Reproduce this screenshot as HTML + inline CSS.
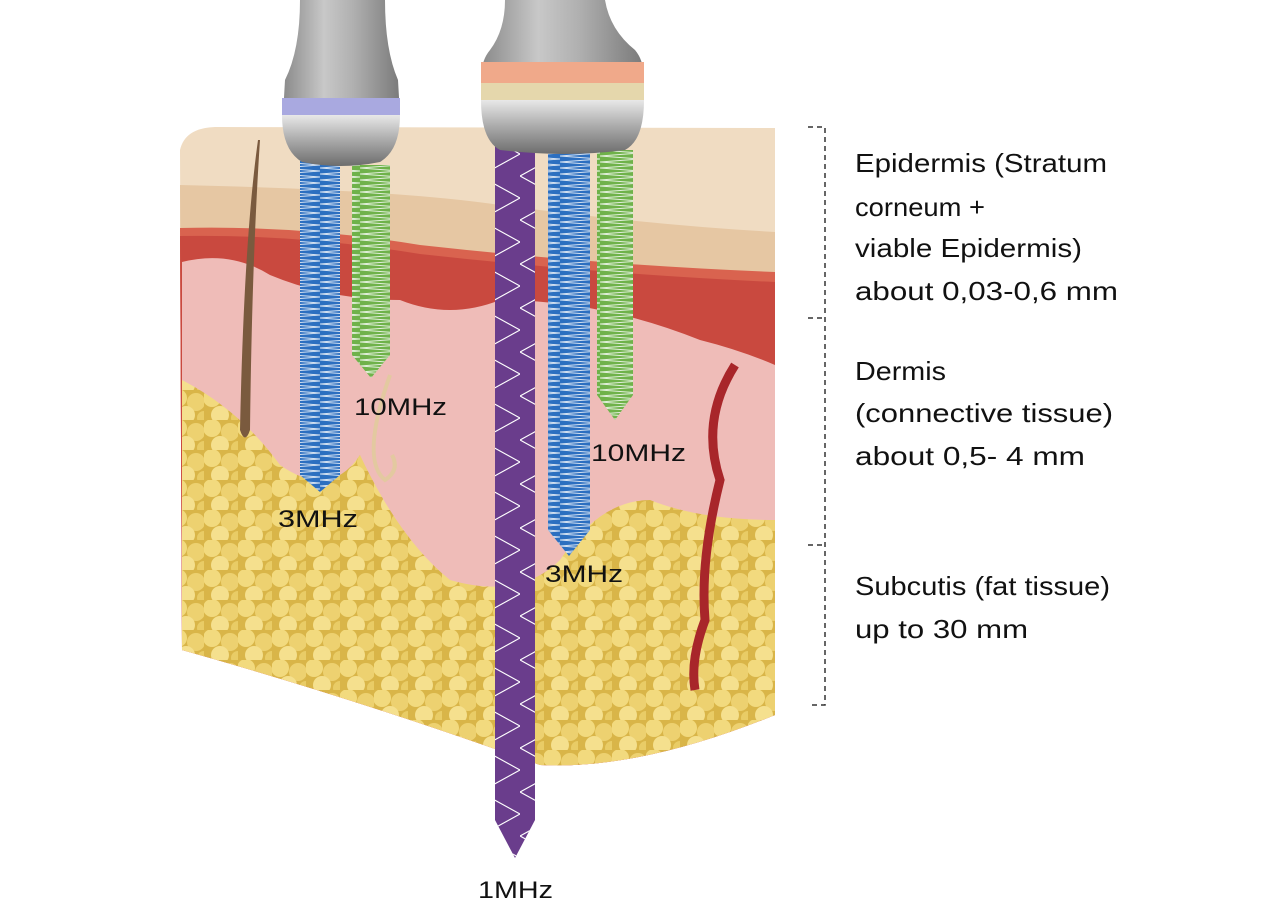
<!DOCTYPE html>
<html><head><meta charset="utf-8"><style>
html,body{margin:0;padding:0;background:#fff;}
svg{display:block;}
text{font-family:"Liberation Sans",sans-serif;fill:#111;}
</style></head><body>
<svg width="1271" height="914" viewBox="0 0 1271 914" xmlns="http://www.w3.org/2000/svg">
<defs>
<linearGradient id="metal" x1="0" x2="1" y1="0" y2="0">
<stop offset="0" stop-color="#8a8a8a"/><stop offset="0.35" stop-color="#c8c8c8"/><stop offset="0.6" stop-color="#b0b0b0"/><stop offset="1" stop-color="#7a7a7a"/></linearGradient>
<linearGradient id="head" x1="0" x2="0" y1="0" y2="1">
<stop offset="0" stop-color="#e8e8e8"/><stop offset="0.5" stop-color="#a9a9a9"/><stop offset="1" stop-color="#6d6d6d"/></linearGradient>
<linearGradient id="epi" x1="0" x2="0" y1="0" y2="1">
<stop offset="0" stop-color="#f0dcc2"/><stop offset="1" stop-color="#e2bf97"/></linearGradient>
<pattern id="zz" width="40" height="6" patternUnits="userSpaceOnUse">
<path d="M0 0 L40 3 L0 6" stroke="#fff" stroke-width="1" fill="none" opacity="0.8"/></pattern>
<pattern id="wave" width="40" height="44" patternUnits="userSpaceOnUse">
<path d="M0 0 L40 22 L0 44" stroke="#fff" stroke-width="1.2" fill="none"/></pattern>
<pattern id="fat" width="34" height="30" patternUnits="userSpaceOnUse">
<rect width="34" height="30" fill="#d9b548"/>
<circle cx="8" cy="8" r="9" fill="#f2da7e"/><circle cx="26" cy="12" r="9" fill="#edd170"/><circle cx="16" cy="25" r="9" fill="#f5e08e"/><circle cx="34" cy="28" r="7" fill="#e9cc66"/></pattern>
</defs>

<path d="M180 150 Q185 128 215 127 L775 128 L775 715 Q640 770 540 765 Q360 700 182 650 Z" fill="#f0dcc2"/>
<path d="M180 185 Q400 190 500 205 Q650 225 775 232 L775 715 Q640 770 540 765 Q360 700 182 650 Z" fill="#e6c7a3"/>
<path d="M180 228 Q300 225 420 245 Q600 265 775 272 L775 715 Q640 770 540 765 Q360 700 182 650 Z" fill="#d9634f"/>
<path d="M180 236 Q300 234 420 254 Q600 274 775 282 L775 715 Q640 770 540 765 Q360 700 182 650 Z" fill="#c9493f"/>
<path d="M182 262 Q230 250 270 275 Q330 300 400 300 Q450 320 500 300 Q600 300 700 340 Q740 350 775 365 L775 715 Q640 770 540 765 Q360 700 182 650 Z" fill="#efbcb8"/>
<path d="M182 380 Q240 410 280 465 Q330 500 360 455 Q400 540 450 580 Q520 600 560 560 Q600 500 650 500 Q700 520 775 520 L775 715 Q640 770 540 765 Q360 700 182 650 Z" fill="url(#fat)"/>
<path d="M258 140 Q244 240 240 430 Q245 445 250 430 Q252 260 260 140 Z" fill="#7a5a3e"/>
<path d="M390 375 Q360 460 385 480 Q400 470 392 455" stroke="#e3c9a0" stroke-width="4" fill="none"/>
<path d="M735 365 Q700 420 720 480 Q700 560 705 620 Q690 660 695 690" stroke="#a8262a" stroke-width="9" fill="none"/>

<path d="M495 140 L535 140 L535 820 L515 858 L495 820 Z" fill="#6a3d8c"/>
<path d="M495 140 L535 140 L535 820 L515 858 L495 820 Z" fill="url(#wave)"/>
<path d="M300 160 L340 160 L340 475 L320 492 L300 475 Z" fill="#2c6fc0"/>
<path d="M300 160 L340 160 L340 475 L320 492 L300 475 Z" fill="url(#zz)"/>
<path d="M352 165 L390 165 L390 355 L371 378 L352 355 Z" fill="#6fb24a"/>
<path d="M352 165 L390 165 L390 355 L371 378 L352 355 Z" fill="url(#zz)"/>
<path d="M548 150 L590 150 L590 530 L569 556 L548 530 Z" fill="#2c6fc0"/>
<path d="M548 150 L590 150 L590 530 L569 556 L548 530 Z" fill="url(#zz)"/>
<path d="M597 150 L633 150 L633 395 L615 420 L597 395 Z" fill="#6fb24a"/>
<path d="M597 150 L633 150 L633 395 L615 420 L597 395 Z" fill="url(#zz)"/>

<path d="M300 0 L385 0 Q385 50 398 80 L400 115 L283 115 L285 80 Q300 50 300 0 Z" fill="url(#metal)"/>
<rect x="282" y="98" width="118" height="18" fill="#a9a9e0"/>
<path d="M282 115 L400 115 Q400 150 380 162 Q340 170 302 162 Q282 150 282 115 Z" fill="url(#head)"/>
<path d="M505 0 L605 0 Q610 30 635 50 Q645 62 643 80 L482 80 Q480 62 490 50 Q505 30 505 0 Z" fill="url(#metal)"/>
<rect x="481" y="62" width="163" height="21" fill="#f0a98a"/>
<rect x="481" y="83" width="163" height="17" fill="#e5d7ac"/>
<path d="M481 100 L644 100 Q644 140 625 150 Q565 158 500 150 Q481 140 481 100 Z" fill="url(#head)"/>

<g font-size="24">
<text x="354" y="415" textLength="93" lengthAdjust="spacingAndGlyphs">10MHz</text>
<text x="278" y="527" textLength="80" lengthAdjust="spacingAndGlyphs">3MHz</text>
<text x="591" y="461" textLength="95" lengthAdjust="spacingAndGlyphs">10MHz</text>
<text x="545" y="582" textLength="78" lengthAdjust="spacingAndGlyphs">3MHz</text>
<text x="478" y="898" textLength="75" lengthAdjust="spacingAndGlyphs">1MHz</text>
</g>

<path d="M808 127 L825 127 L825 705 L808 705" stroke="#333" stroke-width="1.5" stroke-dasharray="5,4" fill="none"/>
<path d="M808 318 L825 318 M808 545 L825 545" stroke="#333" stroke-width="1.5" stroke-dasharray="5,4"/>

<g font-size="26">
<text x="855" y="172" textLength="252" lengthAdjust="spacingAndGlyphs">Epidermis (Stratum</text>
<text x="855" y="216" textLength="130" lengthAdjust="spacingAndGlyphs">corneum +</text>
<text x="855" y="257" textLength="227" lengthAdjust="spacingAndGlyphs">viable Epidermis)</text>
<text x="855" y="300" textLength="263" lengthAdjust="spacingAndGlyphs">about 0,03-0,6 mm</text>
<text x="855" y="380" textLength="91" lengthAdjust="spacingAndGlyphs">Dermis</text>
<text x="855" y="422" textLength="258" lengthAdjust="spacingAndGlyphs">(connective tissue)</text>
<text x="855" y="465" textLength="230" lengthAdjust="spacingAndGlyphs">about 0,5- 4 mm</text>
<text x="855" y="595" textLength="255" lengthAdjust="spacingAndGlyphs">Subcutis (fat tissue)</text>
<text x="855" y="638" textLength="173" lengthAdjust="spacingAndGlyphs">up to 30 mm</text>
</g>
</svg>
</body></html>
